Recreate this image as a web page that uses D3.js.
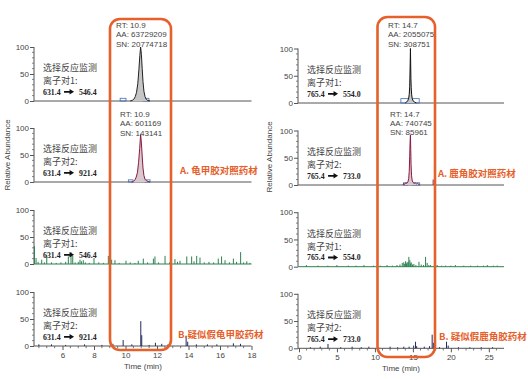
<!DOCTYPE html>
<html><head><meta charset="utf-8">
<script src="https://cdn.jsdelivr.net/npm/d3@7"></script>
<style>
html,body{margin:0;padding:0;background:#fff;}
svg{display:block;font-family:"Liberation Sans",Arial,sans-serif;}
</style></head><body>
<svg id="chart" width="528" height="379"></svg>
<script>
// ---------------- DATA ----------------
const leftTimeTicks = [6, 8, 10, 12, 14, 16, 18];
const rightTimeTicks = [0, 5, 10, 15, 20, 25];
const yTickValues = [0, 50, 100];

const leftTransitions = ["631.4|546.4", "631.4|921.4", "631.4|546.4", "631.4|921.4"];
const rightTransitions = ["765.4|554.0", "765.4|733.0", "765.4|554.0", "765.4|733.0"];
const pairLabels = ["离子对1:", "离子对2:", "离子对1:", "离子对2:"];
const methodLabel = "选择反应监测";

const leftAnnot1 = ["RT: 10.9", "AA: 63729209", "SN: 20774718"];
const leftAnnot2 = ["RT: 10.9", "AA: 601169", "SN: 143141"];
const rightAnnot1 = ["RT: 14.7", "AA: 2055075", "SN: 308751"];
const rightAnnot2 = ["RT: 14.7", "AA: 740745", "SN: 85961"];

const sampleLabels = ["A. 龟甲胶对照药材", "B.疑似假龟甲胶药材", "A. 鹿角胶对照药材", "B. 疑似假鹿角胶药材"];

// peak traces [time, relative abundance]
const leftPeak1 = [[10.3,0],[10.42,1],[10.52,3],[10.62,8],[10.7,16],[10.78,32],[10.85,58],[10.91,84],[10.96,100],[11.01,86],[11.06,60],[11.11,36],[11.17,18],[11.24,8],[11.32,3],[11.42,1],[11.55,0]];
const leftPeak2 = [[10.38,0],[10.5,1],[10.6,4],[10.68,9],[10.76,18],[10.83,36],[10.9,62],[10.96,88],[11.01,72],[11.06,48],[11.11,26],[11.17,12],[11.24,5],[11.34,2],[11.45,1],[11.55,0]];
const rightPeak1 = [[14.0,0],[14.2,2],[14.35,5],[14.45,9],[14.52,16],[14.58,30],[14.62,55],[14.66,85],[14.68,100],[14.71,72],[14.74,45],[14.78,28],[14.84,15],[14.92,8],[15.02,4],[15.2,2],[15.45,0]];
const rightPeak2 = [[13.7,0],[13.8,3],[13.9,1],[14.05,4],[14.2,3],[14.35,6],[14.45,12],[14.52,25],[14.58,52],[14.63,78],[14.68,92],[14.72,65],[14.76,38],[14.82,18],[14.9,9],[15.0,5],[15.15,3],[15.3,4],[15.45,2],[15.6,3],[15.9,0]];

// integration boxes [start, end, height]
const leftBoxes1 = [[9.66,10.03,5],[11.11,11.49,5]];
const leftBoxes2 = [[10.18,10.48,4],[11.24,11.56,4]];
const rightBoxes1 = [[13.42,14.6,8],[14.6,15.83,8]];
const rightBoxes2 = [[13.75,14.35,4],[14.9,15.9,4]];

// noise spikes [time, relative abundance]
const leftNoise3 = [[4.22,33],[4.32,11],[4.45,4],[4.68,8],[4.85,3],[5.0,17],[5.3,3],[5.6,2],[5.9,3],[6.2,4],[6.37,14],[6.54,22],[6.65,15],[6.8,3],[7.0,4],[7.11,8],[7.2,5],[7.32,7],[7.45,3],[7.7,2],[8.0,11],[8.3,3],[8.6,2],[8.91,15],[9.12,8],[9.33,7],[9.6,2],[10.03,6],[10.3,3],[10.6,2],[10.81,6],[11.13,10],[11.4,3],[11.77,10],[11.87,14],[12.1,3],[12.51,15],[12.8,3],[13.14,9],[13.3,4],[13.46,6],[13.89,14],[14.2,14],[14.35,5],[14.52,15],[14.73,12],[15.0,3],[15.3,4],[15.6,3],[15.89,10],[16.1,14],[16.32,7],[16.6,3],[16.85,10],[17.05,4],[17.31,22],[17.5,3],[17.7,5],[17.9,2]];
const leftNoise4 = [[4.5,3],[5.3,3],[6.2,2],[7.4,3],[8.5,2],[9.2,4],[9.85,11],[10.4,3],[10.97,46],[11.03,20],[11.5,2],[11.9,6],[12.3,4],[12.7,3],[13.85,19],[13.95,8],[14.5,3],[15.2,3],[15.8,3],[16.85,5],[17.3,4]];
const rightNoise3 = [[0.97,3],[2.5,2],[3.8,2],[5.0,3],[6.5,2],[7.5,2],[8.55,3],[9.8,2],[10.7,2],[11.6,3],[12.3,2],[12.9,3],[13.3,4],[13.6,7],[13.8,8],[13.92,5],[14.04,10],[14.15,6],[14.25,8],[14.38,9],[14.47,18],[14.6,12],[14.7,6],[14.78,8],[14.95,4],[15.13,5],[15.4,3],[15.8,9],[16.1,4],[16.4,3],[16.67,18],[16.88,7],[17.1,3],[17.32,3],[17.8,2],[18.2,3],[18.8,2],[19.3,2],[20.0,2],[20.6,3],[21.7,2],[22.6,2],[23.5,2],[24.3,2],[24.8,3],[25.6,2],[26.1,2]];
const rightNoise4 = [[1.5,2],[2.8,3],[3.82,8],[5.5,2],[7.0,3],[8.2,2],[9.2,3],[10.5,2],[12.0,3],[13.0,2],[13.8,3],[14.5,3],[15.1,5],[15.35,12],[15.5,4],[16.5,3],[17.2,4],[17.54,25],[17.7,10],[18.5,2],[19.43,12],[19.65,5],[21.0,2],[22.5,2],[24.0,2],[25.5,2]];

// ---------------- DRAW ----------------
const svg = d3.select("#chart");
const ORANGE = "#e5602b";
const GREEN = "#2e8050";
const NAVY = "#1f2b5e";
const MAROON = "#8a1a3c";

function drawSide(cfg) {
  const x = d3.scaleLinear().domain(cfg.domain).range([cfg.x0, cfg.x1]);
  const g = svg.append("g");

  cfg.panels.forEach((p, i) => {
    const y = d3.scaleLinear().domain([0, 100]).range([p.zero, p.zero - cfg.h]);
    const pg = g.append("g");

    // y axis
    const ax = d3.axisLeft(y).tickValues(yTickValues).tickSize(4).tickPadding(1);
    const ag = pg.append("g").attr("transform", `translate(${cfg.x0},0)`).call(ax);
    ag.select(".domain").attr("d", `M0,${y(100)}V${y(0)}`).attr("stroke", "#555");
    ag.selectAll(".tick line").attr("stroke", "#555");
    ag.selectAll(".tick text").attr("font-size", 8).attr("fill", "#444").attr("font-family", "Liberation Sans, Arial");
    const minor = d3.range(10, 100, 10).filter(v => v !== 50);
    pg.selectAll(".ymin").data(minor).join("line")
      .attr("x1", cfg.x0 - 2).attr("x2", cfg.x0)
      .attr("y1", d => y(d)).attr("y2", d => y(d)).attr("stroke", "#666").attr("stroke-width", 0.8);

    // baseline
    pg.append("line").attr("x1", cfg.x0).attr("x2", cfg.x1)
      .attr("y1", y(0)).attr("y2", y(0)).attr("stroke", p.base || "#555").attr("stroke-width", 1);

    // noise spikes
    if (p.noise) {
      pg.selectAll(".sp").data(p.noise).join("line")
        .attr("x1", d => x(d[0])).attr("x2", d => x(d[0]))
        .attr("y1", y(0)).attr("y2", d => y(d[1]))
        .attr("stroke", p.color).attr("stroke-width", 1);
    }
    // boxes
    if (p.boxes) {
      pg.selectAll(".bx").data(p.boxes).join("rect")
        .attr("x", d => x(d[0])).attr("width", d => x(d[1]) - x(d[0]))
        .attr("y", d => y(d[2])).attr("height", d => y(0) - y(d[2]))
        .attr("fill", "none").attr("stroke", "#3d6fb6").attr("stroke-width", 0.8);
    }
    // peak
    if (p.peak) {
      const area = d3.area().x(d => x(d[0])).y0(y(0)).y1(d => y(d[1]));
      const line = d3.line().x(d => x(d[0])).y(d => y(d[1]));
      pg.append("path").datum(p.peak).attr("d", area).attr("fill", p.fill);
      pg.append("path").datum(p.peak).attr("d", line).attr("fill", "none")
        .attr("stroke", p.color).attr("stroke-width", 1);
    }
    // annotation
    if (p.annot) {
      const t = pg.append("text").attr("x", p.annotX).attr("y", p.annotY)
        .attr("font-size", 8).attr("fill", "#444");
      p.annot.forEach((s, k) => t.append("tspan").attr("x", p.annotX).attr("dy", k === 0 ? 0 : 9.3).text(s));
    }
    // method labels
    const lx = cfg.x0 + 9;
    pg.append("text").attr("x", lx).attr("y", y(0) - 30).attr("font-size", 9)
      .attr("fill", "#444").attr("font-family", "Noto Sans CJK SC").text(methodLabel);
    pg.append("text").attr("x", lx).attr("y", y(0) - 17).attr("font-size", 9)
      .attr("fill", "#444").attr("font-family", "Noto Sans CJK SC").text(p.pair);
    const parts = p.trans.split("|");
    const ty = y(0) - 6.5;
    const t1 = pg.append("text").attr("x", lx).attr("y", ty).attr("font-size", 7.8)
      .attr("fill", "#222").attr("font-weight", "bold").attr("font-family", "Liberation Serif, serif").text(parts[0]);
    const w1 = t1.node().getComputedTextLength();
    const ax0 = lx + w1 + 3.5, ax1 = ax0 + 10, ay = ty - 2.7;
    pg.append("path")
      .attr("d", `M${ax0},${ay - 0.9}H${ax1 - 4.5}V${ay - 2.8}L${ax1},${ay}L${ax1 - 4.5},${ay + 2.8}V${ay + 0.9}H${ax0}Z`)
      .attr("fill", "#111");
    pg.append("text").attr("x", ax1 + 5).attr("y", ty).attr("font-size", 7.8)
      .attr("fill", "#222").attr("font-weight", "bold").attr("font-family", "Liberation Serif, serif").text(parts[1]);

    if (p.label) {
      pg.append("text").attr("x", p.labelX).attr("y", y(0) - 8).attr("font-size", 9.5)
        .attr("fill", ORANGE).attr("font-weight", "bold").attr("font-family", "Noto Sans CJK SC")
        .text(p.label);
    }
  });

  // x axis at bottom panel
  const last = cfg.panels[cfg.panels.length - 1];
  const xa = d3.axisBottom(x).tickValues(cfg.ticks).tickSize(4).tickPadding(2);
  const xg = g.append("g").attr("transform", `translate(0,${last.zero})`).call(xa);
  xg.select(".domain").remove();
  xg.selectAll(".tick line").attr("stroke", "#555");
  xg.selectAll(".tick text").attr("font-size", 8).attr("fill", "#444");
  g.selectAll(".xmin").data(cfg.minor).join("line")
    .attr("x1", d => x(d)).attr("x2", d => x(d))
    .attr("y1", last.zero).attr("y2", last.zero + 2.2).attr("stroke", "#555").attr("stroke-width", 0.8);
  g.append("text").attr("x", cfg.titleX).attr("y", last.zero + 23).attr("text-anchor", "middle")
    .attr("font-size", 8).attr("fill", "#444").text("Time (min)");

  // y title
  g.append("text").attr("transform", `translate(${cfg.yTitleX},${cfg.yTitleY}) rotate(-90)`)
    .attr("text-anchor", "middle").attr("font-size", 8).attr("fill", "#444").text("Relative Abundance");

  // highlight box
  g.append("rect").attr("x", cfg.box[0]).attr("y", cfg.box[1])
    .attr("width", cfg.box[2] - cfg.box[0]).attr("height", cfg.box[3] - cfg.box[1])
    .attr("rx", 10).attr("fill", "none").attr("stroke", ORANGE).attr("stroke-width", 2.6);
}

drawSide({
  domain: [4.19, 18], x0: 34, x1: 251.5, h: 54,
  ticks: leftTimeTicks,
  minor: d3.range(4.5, 18.01, 0.5).filter(v => !leftTimeTicks.includes(v)),
  titleX: 143, yTitleX: 10, yTitleY: 155,
  box: [110, 19, 171, 350],
  panels: [
    {zero: 101, peak: leftPeak1, fill: "#c6c6c6", color: "#222", boxes: leftBoxes1,
     annot: leftAnnot1, annotX: 116, annotY: 28, pair: pairLabels[0], trans: leftTransitions[0]},
    {zero: 182, peak: leftPeak2, fill: "#d8c8d0", color: MAROON, boxes: leftBoxes2,
     annot: leftAnnot2, annotX: 120, annotY: 117, pair: pairLabels[1], trans: leftTransitions[1],
     label: sampleLabels[0], labelX: 180},
    {zero: 264, noise: leftNoise3, color: GREEN, base: GREEN, pair: pairLabels[2], trans: leftTransitions[2]},
    {zero: 346, noise: leftNoise4, color: NAVY, pair: pairLabels[3], trans: leftTransitions[3],
     label: sampleLabels[1], labelX: 178}
  ]
});

drawSide({
  domain: [-0.13, 27], x0: 298, x1: 504, h: 54.5,
  ticks: rightTimeTicks,
  minor: d3.range(1, 27, 1).filter(v => !rightTimeTicks.includes(v)),
  titleX: 401, yTitleX: 272, yTitleY: 157,
  box: [377.5, 17, 435, 357],
  panels: [
    {zero: 103, peak: rightPeak1, fill: "#c6c6c6", color: "#111", boxes: rightBoxes1,
     annot: rightAnnot1, annotX: 388, annotY: 28, pair: pairLabels[0], trans: rightTransitions[0]},
    {zero: 185, peak: rightPeak2, fill: "#d8c8d0", color: MAROON, boxes: rightBoxes2,
     noise: [[17.67, 10]], 
     annot: rightAnnot2, annotX: 390, annotY: 116.5, pair: pairLabels[1], trans: rightTransitions[1],
     label: sampleLabels[2], labelX: 438},
    {zero: 266.7, noise: rightNoise3, color: GREEN, base: GREEN, pair: pairLabels[2], trans: rightTransitions[2]},
    {zero: 348.3, noise: rightNoise4, color: NAVY, pair: pairLabels[3], trans: rightTransitions[3],
     label: sampleLabels[3], labelX: 439}
  ]
});
</script>
</body></html>
